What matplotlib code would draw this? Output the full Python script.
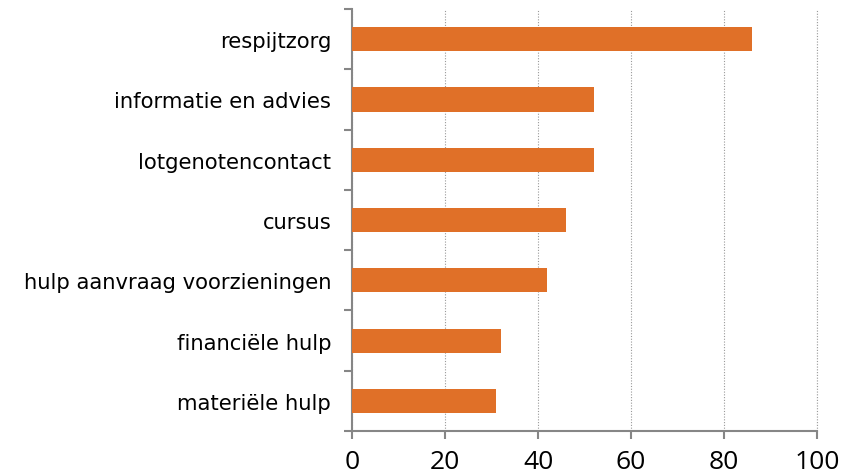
import numpy as np
import matplotlib.pyplot as plt
from matplotlib.ticker import FixedLocator

categories = ["respijtzorg", "informatie en advies", "lotgenotencontact", "cursus",
              "hulp aanvraag voorzieningen", "financiële hulp", "materiële hulp"]
values = [86, 52, 52, 46, 42, 32, 31]
xticks = [0, 20, 40, 60, 80, 100]

fig = plt.figure(figsize=(8.46, 4.77), dpi=100)
ax = fig.add_axes([0.4161, 0.0943, 0.5497, 0.8847])

y = np.arange(len(categories))[::-1]
ax.barh(y, values, height=0.4, color="#E07028", zorder=3)

ax.set_xlim(0, 100)
ax.set_ylim(-0.5, len(categories) - 0.5)
ax.set_xticks(xticks)
ax.set_xticklabels([str(t) for t in xticks], fontsize=19, family="Open Sans")
ax.set_yticks(y)
ax.set_yticklabels(categories, fontsize=15.2, family="DejaVu Sans")
ax.tick_params(axis="y", length=0, pad=15)
ax.yaxis.set_minor_locator(FixedLocator(np.arange(-0.5, len(categories), 1.0)))
ax.tick_params(axis="y", which="minor", length=6, color="#868686", width=1.5)
ax.tick_params(axis="x", length=6, color="#868686", width=1.5, pad=7)

for s in ["top", "right"]:
    ax.spines[s].set_visible(False)
for s in ["left", "bottom"]:
    ax.spines[s].set_color("#868686")
    ax.spines[s].set_linewidth(1.5)

ax.grid(axis="x", linestyle=(0, (1, 1.5)), color="#999999", linewidth=0.8, zorder=0)
ax.axvline(100, linestyle=(0, (1, 1.5)), color="#999999", linewidth=0.8, zorder=0, clip_on=False)

fig.savefig("out.png", dpi=100)
